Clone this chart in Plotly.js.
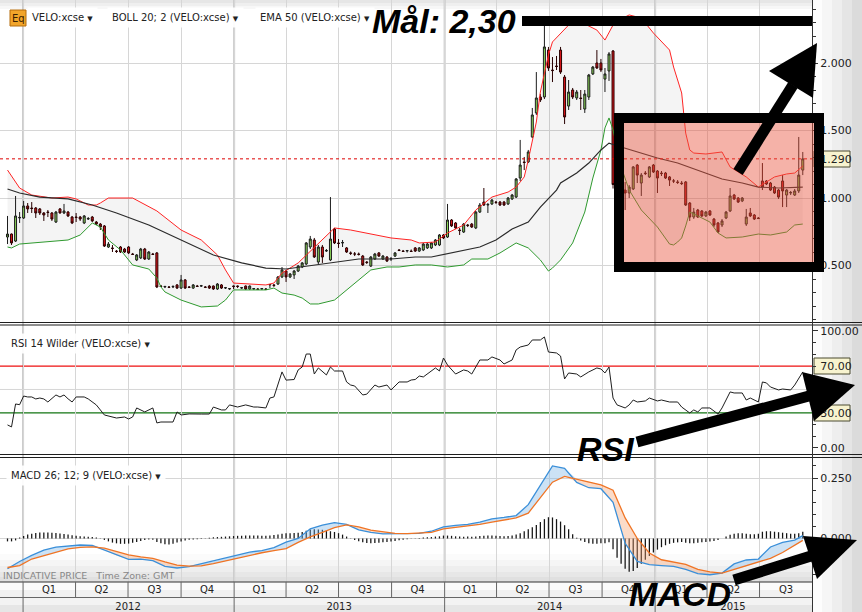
<!DOCTYPE html>
<html>
<head>
<meta charset="utf-8">
<script src="https://cdn.plot.ly/plotly-3.0.1.min.js"></script>
<style>
html,body{margin:0;padding:0;background:#fff;overflow:hidden;}
#chart{width:862px;height:612px;}
</style>
</head>
<body>
<div id="chart"></div>
<script>
// ---------------- data (weekly bars, VELO:xcse) ----------------
const startDate = '2011-12-05';

const open = [
0.711,0.733,0.681,0.852,0.852,0.941,0.926,0.926,0.919,0.889,
0.896,0.889,0.822,0.919,0.889,0.896,0.859,0.859,0.859,0.815,
0.844,0.859,0.822,0.807,0.793,0.637,0.630,0.607,0.637,0.622,
0.637,0.585,0.541,0.556,0.622,0.548,0.585,0.593,0.348,0.341,
0.341,0.341,0.356,0.333,0.393,0.341,0.333,0.348,0.348,0.341,
0.348,0.348,0.326,0.356,0.333,0.326,0.348,0.348,0.333,0.348,
0.326,0.326,0.326,0.326,0.326,0.356,0.356,0.363,0.415,0.459,
0.415,0.430,0.459,0.489,0.511,0.637,0.689,0.526,0.637,0.607,
0.541,0.770,0.667,0.667,0.630,0.593,0.585,0.585,0.570,0.526,
0.496,0.548,0.593,0.548,0.563,0.548,0.570,0.615,0.607,0.607,
0.607,0.630,0.607,0.615,0.630,0.630,0.652,0.652,0.726,0.711,
0.837,0.815,0.763,0.748,0.800,0.807,0.778,0.896,0.970,0.948,
0.956,0.970,0.970,0.970,0.956,0.993,1.007,1.148,1.267,1.267,
1.452,1.630,1.748,1.748,2.096,1.948,1.978,2.096,1.896,1.681,
1.800,1.741,1.741,1.659,1.748,1.919,2.000,2.000,1.881,1.941,
2.089,1.100,1.000,1.059,1.037,1.067,1.244,1.111,1.185,1.156,
1.244,1.200,1.185,1.185,1.156,1.126,1.119,1.111,1.119,0.963,
0.859,0.911,0.904,0.867,0.904,0.844,0.815,0.800,0.852,0.904,
1.022,1.000,0.978,0.807,0.889,0.874,0.852,1.126,1.126,1.111,
1.081,1.059,1.126,1.022,1.037,1.022,1.052,1.207];

const high = [
0.867,0.737,1.015,0.896,0.978,0.963,0.970,0.933,0.926,0.896,
0.911,0.896,0.904,0.926,0.956,0.904,0.867,0.889,0.867,0.874,
0.859,0.867,0.830,0.815,0.800,0.674,0.652,0.615,0.644,0.630,
0.644,0.593,0.585,0.630,0.630,0.607,0.593,0.600,0.356,0.348,
0.348,0.352,0.363,0.430,0.400,0.348,0.363,0.356,0.356,0.348,
0.356,0.352,0.370,0.363,0.341,0.333,0.352,0.352,0.341,0.352,
0.352,0.333,0.333,0.333,0.333,0.363,0.363,0.422,0.489,0.467,
0.444,0.467,0.504,0.526,0.674,0.719,0.704,0.652,0.652,0.622,
1.007,0.778,0.696,0.689,0.637,0.604,0.600,0.596,0.578,0.533,
0.570,0.593,0.600,0.578,0.570,0.563,0.600,0.622,0.615,0.615,
0.619,0.637,0.637,0.667,0.667,0.674,0.696,0.733,0.733,0.956,
0.844,0.822,0.778,0.815,0.807,0.815,0.904,0.963,1.074,0.963,
0.993,0.978,0.978,0.978,1.007,1.030,1.148,1.430,1.304,1.356,
1.667,1.933,1.770,2.281,2.119,2.044,2.052,2.119,1.911,1.874,
1.815,1.800,1.800,1.800,1.919,1.978,2.096,2.030,1.963,2.081,
2.096,1.120,1.080,1.119,1.096,1.237,1.252,1.185,1.200,1.237,
1.252,1.207,1.200,1.193,1.163,1.141,1.133,1.126,1.126,0.970,
0.926,0.919,0.911,0.904,0.911,0.852,0.822,0.844,0.904,1.074,
1.030,1.007,1.007,0.919,0.926,0.881,0.859,1.259,1.133,1.119,
1.089,1.067,1.170,1.067,1.052,1.067,1.452,1.341];

const low = [
0.659,0.652,0.674,0.815,0.845,0.889,0.889,0.852,0.874,0.830,
0.859,0.830,0.815,0.885,0.881,0.859,0.807,0.822,0.830,0.807,
0.837,0.822,0.800,0.763,0.637,0.630,0.600,0.593,0.593,0.593,
0.585,0.578,0.533,0.548,0.541,0.541,0.578,0.333,0.341,0.333,
0.333,0.333,0.326,0.326,0.326,0.333,0.326,0.341,0.341,0.333,
0.326,0.319,0.319,0.326,0.326,0.319,0.326,0.333,0.326,0.319,
0.319,0.319,0.319,0.319,0.319,0.333,0.341,0.356,0.407,0.378,
0.407,0.400,0.452,0.481,0.504,0.622,0.556,0.511,0.519,0.600,
0.533,0.659,0.630,0.637,0.593,0.578,0.570,0.574,0.496,0.511,
0.489,0.541,0.563,0.541,0.526,0.533,0.563,0.607,0.600,0.596,
0.600,0.600,0.600,0.607,0.622,0.622,0.644,0.644,0.696,0.704,
0.785,0.770,0.726,0.741,0.785,0.778,0.770,0.889,0.941,0.889,
0.948,0.956,0.941,0.941,0.948,0.985,1.000,1.126,1.207,1.259,
1.444,1.615,1.711,1.733,1.941,1.859,1.948,1.919,1.548,1.652,
1.733,1.726,1.652,1.630,1.726,1.911,1.956,1.933,1.785,1.867,
1.070,0.970,0.960,0.911,1.000,1.059,1.111,1.015,1.170,1.148,
1.185,1.037,1.163,1.141,1.089,1.111,1.104,1.096,0.941,0.830,
0.845,0.852,0.859,0.859,0.867,0.785,0.741,0.785,0.844,0.896,
0.985,0.963,0.970,0.793,0.859,0.837,0.844,1.059,1.096,1.052,
1.030,0.993,0.933,0.933,1.022,1.015,1.037,1.170];

const close = [
0.733,0.667,0.867,0.856,0.941,0.919,0.922,0.889,0.889,0.874,
0.893,0.844,0.896,0.889,0.904,0.867,0.815,0.856,0.844,0.867,
0.848,0.830,0.807,0.785,0.644,0.659,0.626,0.604,0.600,0.600,
0.593,0.582,0.578,0.622,0.548,0.600,0.582,0.341,0.345,0.345,
0.338,0.345,0.333,0.393,0.333,0.338,0.356,0.345,0.350,0.338,
0.333,0.326,0.363,0.333,0.336,0.329,0.345,0.345,0.336,0.326,
0.348,0.329,0.323,0.329,0.323,0.359,0.352,0.415,0.467,0.415,
0.437,0.459,0.496,0.519,0.667,0.696,0.563,0.637,0.563,0.611,
0.696,0.667,0.663,0.670,0.600,0.590,0.585,0.582,0.504,0.522,
0.563,0.585,0.570,0.570,0.533,0.552,0.593,0.611,0.604,0.611,
0.604,0.607,0.630,0.659,0.659,0.667,0.689,0.726,0.704,0.837,
0.793,0.778,0.759,0.807,0.796,0.785,0.896,0.948,0.948,0.952,
0.985,0.967,0.948,0.948,1.000,1.022,1.141,1.244,1.263,1.341,
1.615,1.741,1.726,2.119,1.963,1.944,1.974,1.933,1.600,1.785,
1.748,1.785,1.737,1.770,1.911,1.970,1.963,1.948,1.919,2.067,
1.100,1.000,1.030,1.037,1.081,1.230,1.170,1.170,1.181,1.230,
1.193,1.148,1.181,1.148,1.133,1.126,1.115,1.107,0.948,0.859,
0.896,0.859,0.867,0.896,0.874,0.800,0.748,0.830,0.896,1.015,
0.993,0.970,1.000,0.859,0.867,0.844,0.848,1.081,1.104,1.059,
1.037,1.007,1.052,1.059,1.041,1.052,1.170,1.290];

// Bollinger 20;2 (bar index -> value)
const bbUpperIdx = [0,3,6,11,15,17,20,22,23,25,31,35,37,43,48,52,54,56,64,66,68,72,76,78,81,85,90,95,100,102,106,109,113,116,120,124,126,128,129,131,132,134,135,137,139,143,146,148,150,153,154,157,160,164,165,167,168,169,170,173,177,179,183,186,188,190,193,195,197];
const bbUpper = [1.207,1.074,1.022,1.000,1.007,0.993,0.948,0.948,0.963,1.000,1.000,0.933,0.904,0.763,0.689,0.578,0.467,0.370,0.356,0.370,0.444,0.519,0.637,0.689,0.778,0.763,0.733,0.704,0.689,0.667,0.674,0.741,0.800,0.911,1.007,1.044,1.081,1.156,1.281,1.563,1.785,2.059,2.156,2.222,2.281,2.289,2.244,2.170,2.281,2.341,2.356,2.333,2.222,2.096,1.970,1.778,1.481,1.356,1.333,1.326,1.341,1.230,1.156,1.081,1.119,1.156,1.178,1.185,1.237];
const bbLowerIdx = [0,1,3,6,11,15,18,20,21,23,25,28,31,35,37,38,39,43,48,52,54,56,64,66,68,71,73,75,77,81,85,88,90,94,97,101,105,109,113,115,119,122,126,129,132,134,135,137,140,143,145,147,148,149,150,152,154,157,161,164,165,166,167,168,169,171,174,176,178,182,186,189,193,195,197];
const bbLower = [0.637,0.630,0.659,0.667,0.681,0.689,0.726,0.785,0.815,0.785,0.689,0.615,0.504,0.474,0.407,0.341,0.304,0.244,0.193,0.200,0.244,0.319,0.319,0.333,0.296,0.281,0.259,0.215,0.215,0.244,0.341,0.415,0.467,0.489,0.489,0.504,0.504,0.489,0.504,0.548,0.548,0.593,0.667,0.630,0.541,0.459,0.481,0.541,0.667,0.896,1.148,1.356,1.519,1.593,1.504,1.230,1.059,0.911,0.785,0.659,0.652,0.674,0.704,0.793,0.896,0.867,0.822,0.741,0.704,0.711,0.733,0.726,0.748,0.800,0.807];

// EMA 50
const emaIdx = [0,3,8,15,21,27,35,43,51,58,64,69,74,81,87,95,101,105,113,117,121,125,129,132,136,137,141,144,147,149,152,157,161,166,171,174,177,182,186,191,197];
const ema50 = [1.067,1.037,1.007,0.993,0.948,0.889,0.800,0.689,0.578,0.519,0.481,0.474,0.496,0.526,0.548,0.548,0.563,0.563,0.615,0.637,0.689,0.770,0.822,0.933,1.059,1.111,1.185,1.259,1.356,1.407,1.378,1.333,1.296,1.259,1.207,1.178,1.141,1.111,1.081,1.074,1.081];

// RSI 14 Wilder
const rsiIdx = [0,1,2,3,4,5,6,7,8,9,10,12,13,14,15,16,17,19,20,22,24,25,27,29,30,31,32,34,36,37,38,41,42,43,45,48,50,51,53,54,55,57,59,61,62,64,65,66,68,69,71,72,73,74,75,76,77,79,80,81,83,84,85,86,88,89,91,92,94,95,97,99,100,101,102,103,104,106,107,108,109,111,113,114,115,117,119,120,122,123,125,126,127,129,130,132,133,134,136,137,138,139,141,142,144,146,147,148,149,150,151,153,154,155,156,158,159,161,162,164,166,167,169,170,171,172,174,176,177,179,180,182,183,184,186,187,188,189,191,192,194,195,197];
const rsi = [19.7,18,37.6,37,44.4,43.6,43.6,41.9,42.7,41.9,39.3,45.3,43.6,45.3,42,39.3,43.6,43.6,41.9,36.8,28.2,27.4,25.6,26.5,24.8,26.5,34.2,30.8,34.2,21.4,22.2,22.2,30.8,28.2,29.1,29,29,35,32.5,32.5,36.8,35,36.8,35,35,34.2,42.7,43.6,65,58,58.5,66.7,69.2,80.3,80.3,63.2,68.4,62.4,69.2,65.8,65.8,56.4,53.8,53,45.3,46,53.8,52.1,53.8,49.6,56.4,56.4,58.1,58.5,61.5,60.7,63.2,68.4,65.8,76.9,70.9,63.2,66.7,65.8,63.2,75.2,75.2,77.8,75.2,71.8,75.2,83.8,86.3,88,92.3,92.3,94.9,82,81.2,78.6,59,64.1,63.2,60.7,65,68.4,67.5,64.1,69.2,42.7,36.8,34.2,36.8,41,39.3,40.2,42.7,40.2,41,39.3,39.3,35,29.9,32.5,30.8,34.2,34.2,29,34.2,47.9,47,47,41,42.7,39.3,56.4,55.6,52.1,49.6,50.4,49.6,53.8,65];
const rsiUpper = 70, rsiLower = 30, rsiMid = 50;

// MACD 26;12;9
const macdIdx = [0,3,6,9,12,15,18,21,24,27,30,33,36,39,42,45,48,51,54,57,60,63,66,69,72,75,78,81,84,87,90,93,96,99,102,105,108,111,114,117,120,123,126,129,132,135,138,141,144,147,150,153,156,159,162,165,168,171,174,177,180,183,186,189,192,195,197];
const macd = [-0.125,-0.095,-0.070,-0.048,-0.036,-0.030,-0.027,-0.029,-0.048,-0.070,-0.086,-0.085,-0.092,-0.115,-0.122,-0.116,-0.104,-0.095,-0.081,-0.068,-0.056,-0.050,-0.038,-0.015,0.000,0.040,0.055,0.066,0.058,0.036,0.025,0.019,0.019,0.019,0.021,0.030,0.048,0.054,0.058,0.068,0.081,0.087,0.095,0.140,0.222,0.300,0.290,0.232,0.210,0.206,0.150,-0.020,-0.095,-0.108,-0.112,-0.115,-0.128,-0.145,-0.150,-0.143,-0.105,-0.089,-0.085,-0.035,-0.016,-0.007,0.012];
const signal = [-0.120,-0.112,-0.085,-0.070,-0.055,-0.043,-0.037,-0.035,-0.040,-0.055,-0.068,-0.076,-0.082,-0.097,-0.110,-0.114,-0.113,-0.104,-0.092,-0.080,-0.068,-0.059,-0.050,-0.042,-0.016,0.007,0.025,0.045,0.056,0.048,0.035,0.027,0.021,0.020,0.021,0.025,0.040,0.046,0.052,0.058,0.068,0.078,0.085,0.105,0.170,0.233,0.257,0.246,0.232,0.222,0.200,0.085,0.000,-0.060,-0.088,-0.096,-0.107,-0.128,-0.138,-0.143,-0.128,-0.115,-0.097,-0.082,-0.058,-0.030,-0.008];
const hist = [
-0.012,-0.012,-0.008,0.004,0.010,0.016,0.020,0.023,0.025,0.025,
0.025,0.024,0.023,0.021,0.019,0.016,0.013,0.011,0.009,0.008,
0.007,0.006,0.004,0.001,-0.006,-0.012,-0.017,-0.020,-0.022,-0.022,
-0.021,-0.018,-0.014,-0.010,-0.006,-0.004,-0.005,-0.014,-0.020,-0.024,
-0.025,-0.022,-0.017,-0.012,-0.008,-0.005,-0.004,-0.003,-0.002,0.001,
0.003,0.005,0.006,0.007,0.008,0.009,0.010,0.011,0.011,0.012,
0.012,0.012,0.012,0.011,0.011,0.012,0.014,0.016,0.020,0.022,
0.022,0.023,0.024,0.027,0.032,0.037,0.038,0.037,0.036,0.033,
0.030,0.027,0.022,0.016,0.008,0.001,-0.006,-0.011,-0.016,-0.019,
-0.020,-0.019,-0.018,-0.016,-0.014,-0.012,-0.010,-0.007,-0.005,-0.003,
-0.001,0.001,0.002,0.004,0.005,0.006,0.008,0.009,0.012,0.012,
0.011,0.009,0.008,0.007,0.008,0.007,0.008,0.010,0.011,0.012,
0.012,0.011,0.010,0.009,0.010,0.012,0.016,0.022,0.030,0.038,
0.046,0.056,0.068,0.080,0.088,0.087,0.080,0.070,0.055,0.038,
0.018,0.003,-0.008,-0.015,-0.020,-0.022,-0.022,-0.020,-0.020,-0.016,
-0.045,-0.080,-0.105,-0.125,-0.138,-0.135,-0.122,-0.105,-0.088,-0.072,
-0.058,-0.046,-0.036,-0.028,-0.022,-0.018,-0.016,-0.015,-0.018,-0.020,
-0.020,-0.018,-0.016,-0.014,-0.012,-0.010,-0.006,0.000,0.008,0.015,
0.020,0.022,0.022,0.020,0.018,0.018,0.020,0.028,0.030,0.030,
0.028,0.026,0.024,0.022,0.020,0.020,0.022,0.028];

// time axis labels
const quarterStarts = ['2012-01-01','2012-04-01','2012-07-01','2012-10-01','2013-01-01','2013-04-01','2013-07-01','2013-10-01','2014-01-01','2014-04-01','2014-07-01','2014-10-01','2015-01-01','2015-04-01','2015-07-01'];
const quarterMids = ['2012-02-15','2012-05-16','2012-08-16','2012-11-15','2013-02-14','2013-05-16','2013-08-16','2013-11-15','2014-02-14','2014-05-16','2014-08-16','2014-11-15','2015-02-14','2015-05-16','2015-08-16'];
const quarterLabels = ['Q1','Q2','Q3','Q4','Q1','Q2','Q3','Q4','Q1','Q2','Q3','Q4','Q1','Q2','Q3'];
const yearStarts = ['2012-01-01','2013-01-01','2014-01-01','2015-01-01'];
const yearMids = ['2012-07-01','2013-07-02','2014-07-02','2015-05-16'];
const yearLabels = ['2012','2013','2014','2015'];
const xRange = ['2011-11-22','2015-09-30'];

// ---------------- build ----------------
const dates = [];
(function(){ const t0 = Date.parse(startDate + 'T00:00:00Z');
  for (let i = 0; i < open.length; i++) dates.push(new Date(t0 + i*7*864e5).toISOString().slice(0,10)); })();
const at = idx => idx.map(i => dates[i]);
const lastClose = close[close.length-1];

const W = 862, H = 612;
const PX = x => x / W;
const PY = y => 1 - y / H;
const FONT = 'DejaVu Sans, Verdana, sans-serif';
const BIG = 'Liberation Sans, Arial, sans-serif';

const traces = [];
traces.push({type:'scatter', mode:'lines', x:at(bbLowerIdx), y:bbLower, xaxis:'x', yaxis:'y',
  line:{color:'#2f9a2f', width:1}, hoverinfo:'skip'});
traces.push({type:'scatter', mode:'lines', x:at(bbUpperIdx), y:bbUpper, xaxis:'x', yaxis:'y',
  fill:'tonexty', fillcolor:'rgba(0,0,0,0.045)', line:{color:'#ff2424', width:1}, hoverinfo:'skip'});
traces.push({type:'scatter', mode:'lines', x:at(emaIdx), y:ema50, xaxis:'x', yaxis:'y',
  line:{color:'#2a2a2a', width:1.2}, hoverinfo:'skip'});
traces.push({type:'candlestick', x:dates, open:open, high:high, low:low, close:close, xaxis:'x', yaxis:'y',
  whiskerwidth:0,
  increasing:{line:{color:'#1c1c1c', width:1}, fillcolor:'#8fdc5c'},
  decreasing:{line:{color:'#2a0000', width:1}, fillcolor:'#e8161b'},
  hoverinfo:'skip'});

traces.push({type:'scatter', mode:'lines', x:at(rsiIdx), y:rsi, xaxis:'x2', yaxis:'y2',
  line:{color:'#1e1e1e', width:1}, hoverinfo:'skip'});

const mX = at(macdIdx);
const mHi = macd.map((v,i)=>Math.max(v, signal[i]));
const mLo = macd.map((v,i)=>Math.min(v, signal[i]));
traces.push({type:'bar', x:dates, y:hist, xaxis:'x3', yaxis:'y3', marker:{color:'#151515', line:{width:0}}, width:1.9e8, hoverinfo:'skip'});
traces.push({type:'scatter', mode:'lines', x:mX, y:signal, xaxis:'x3', yaxis:'y3', line:{width:0, color:'rgba(0,0,0,0)'}, hoverinfo:'skip'});
traces.push({type:'scatter', mode:'lines', x:mX, y:mHi, xaxis:'x3', yaxis:'y3', fill:'tonexty', fillcolor:'rgba(120,180,230,0.38)', line:{width:0, color:'rgba(0,0,0,0)'}, hoverinfo:'skip'});
traces.push({type:'scatter', mode:'lines', x:mX, y:signal, xaxis:'x3', yaxis:'y3', line:{width:0, color:'rgba(0,0,0,0)'}, hoverinfo:'skip'});
traces.push({type:'scatter', mode:'lines', x:mX, y:mLo, xaxis:'x3', yaxis:'y3', fill:'tonexty', fillcolor:'rgba(245,160,110,0.38)', line:{width:0, color:'rgba(0,0,0,0)'}, hoverinfo:'skip'});
traces.push({type:'scatter', mode:'lines', x:mX, y:macd, xaxis:'x3', yaxis:'y3', line:{color:'#3a8fd9', width:1.3}, hoverinfo:'skip'});
traces.push({type:'scatter', mode:'lines', x:mX, y:signal, xaxis:'x3', yaxis:'y3', line:{color:'#f07424', width:1.3}, hoverinfo:'skip'});

// invisible anchors so the overlay label axes are drawn
const ghost = (xa, ya, xv, yv) => ({type:'scatter', mode:'markers', x:[xv], y:[yv], xaxis:xa, yaxis:ya,
  marker:{opacity:0, size:1}, hoverinfo:'skip', showlegend:false});
traces.push(ghost('x','y4', dates[dates.length-1], lastClose));
traces.push(ghost('x2','y5', dates[dates.length-1], rsiUpper));
traces.push(ghost('x4','y3', dates[0], 0));
traces.push(ghost('x5','y3', dates[0], 0));

// ---------------- axes ----------------
const xDomain = [0, 812/W];
function xBase(anchor){ return {domain:xDomain, anchor:anchor, type:'date', range:xRange,
  showticklabels:false, ticks:'', tick0:'2012-01-01', dtick:'M3', showgrid:true, gridcolor:'#d6d6d6', gridwidth:1,
  zeroline:false, showline:false, automargin:false, fixedrange:true, rangeslider:{visible:false}}; }
const tickFont = {family:FONT, size:11, color:'#222'};
function yBase(domain, anchor, range){ return {domain:domain, anchor:anchor, side:'right', range:range,
  ticks:'outside', ticklen:5, tickcolor:'#333', showline:true, linecolor:'#333', linewidth:1,
  zeroline:false, automargin:false, fixedrange:true, tickfont:tickFont}; }
function yTag(over, anchor, range, vals, texts){ return {overlaying:over, anchor:anchor, side:'right', range:range,
  tickmode:'array', tickvals:vals, ticktext:texts, ticks:'outside', ticklen:5, tickcolor:'rgba(0,0,0,0)',
  showgrid:false, showline:false, zeroline:false, automargin:false, fixedrange:true, tickfont:tickFont}; }

const priceRange = [0.0815, 2.4667], rsiRange = [-6.0, 105.1], macdRange = [-0.180, 0.333];

const yPrice = yBase([1-322/H, 1], 'x', priceRange);
Object.assign(yPrice, {tick0:0, dtick:0.5, tickformat:'.3f', showgrid:true, gridcolor:'#d6d6d6',
  minor:{tick0:0, dtick:0.1, ticks:'outside', ticklen:3, tickcolor:'#333', showgrid:false}});
const yRsi = yBase([1-455/H, 1-325/H], 'x2', rsiRange);
Object.assign(yRsi, {tickmode:'array', tickvals:[0,100], ticktext:['0.00','100.00'], showgrid:false,
  minor:{tick0:0, dtick:10, ticks:'outside', ticklen:3, tickcolor:'#333', showgrid:false}});
const yMacd = yBase([1-582/H, 1-458/H], 'x3', macdRange);
Object.assign(yMacd, {tickmode:'array', tickvals:[0,0.25], ticktext:['0.000','0.250'], showgrid:true, gridcolor:'#d6d6d6',
  minor:{tick0:0, dtick:0.05, ticks:'outside', ticklen:3, tickcolor:'#333', showgrid:false}});

const xQuarter = {overlaying:'x3', anchor:'y3', side:'bottom', type:'date', range:xRange, tickmode:'array',
  tickvals:quarterMids, ticktext:quarterLabels, ticks:'', showgrid:false, zeroline:false, showline:false,
  automargin:false, fixedrange:true, tickfont:{family:FONT, size:10, color:'#222'}};
const xYear = {overlaying:'x3', anchor:'free', position:0, side:'top', type:'date', range:xRange, tickmode:'array',
  tickvals:yearMids, ticktext:yearLabels, ticks:'', showgrid:false, zeroline:false, showline:false,
  automargin:false, fixedrange:true, tickfont:{family:FONT, size:10, color:'#222'}};

// ---------------- shapes ----------------
const shapes = [];
function rect(x0,y0,x1,y1,fill,layer,line){ return {type:'rect', xref:'paper', yref:'paper',
  x0:PX(x0), x1:PX(x1), y0:PY(y1), y1:PY(y0), fillcolor:fill, line:line||{width:0}, layer:layer||'below'}; }
function seg(x0,y0,x1,y1,color,width,layer){ return {type:'line', xref:'paper', yref:'paper',
  x0:PX(x0), y0:PY(y0), x1:PX(x1), y1:PY(y1), line:{color:color, width:width}, layer:layer||'above'}; }

// background shading
[[0,3,'#e6e6e6'],[3,6,'#efefef'],[6,9,'#f7f7f7']].forEach(s=>shapes.push(rect(0,s[0],812,s[1],s[2])));
[[554,560,'#fbfbfb'],[560,566,'#f5f5f5'],[566,572,'#eeeeee'],[572,577,'#e7e7e7'],[577,582,'#e0e0e0']].forEach(s=>shapes.push(rect(0,s[0],812,s[1],s[2])));
[[582,590,'#fbfbfb'],[590,597.5,'#f1f1f1'],[597.5,605,'#f3f3f3'],[605,612,'#e6e6e6']].forEach(s=>shapes.push(rect(0,s[0],812,s[1],s[2])));
[[812,822,'#fdfdfd'],[822,832,'#f6f6f6'],[832,842,'#eeeeee'],[842,852,'#e5e5e5'],[852,862,'#dbdbdb']].forEach(s=>shapes.push(rect(s[0],0,s[1],612,s[2])));

// year grid lines (thicker)
yearStarts.forEach(d=>shapes.push({type:'line', xref:'x', yref:'paper', x0:d, x1:d, y0:PY(582), y1:1,
  line:{color:'#c9c9c9', width:2}, layer:'below'}));
// RSI levels
shapes.push({type:'line', xref:'paper', yref:'y2', x0:0, x1:PX(812), y0:rsiMid, y1:rsiMid, line:{color:'#d6d6d6', width:1}, layer:'below'});
shapes.push({type:'line', xref:'paper', yref:'y2', x0:0, x1:PX(812), y0:rsiUpper, y1:rsiUpper, line:{color:'#ee1111', width:1.2}, layer:'below'});
shapes.push({type:'line', xref:'paper', yref:'y2', x0:0, x1:PX(812), y0:rsiLower, y1:rsiLower, line:{color:'#127512', width:1.2}, layer:'below'});
// value tags
const tagLine = {color:'#4a4a30', width:1};
shapes.push(rect(814,151,850,167,'#f7f3cf','below',tagLine));
shapes.push(rect(814,358,850,374,'#f7f3cf','below',tagLine));
shapes.push(rect(814,405,850,421,'#f7f3cf','below',tagLine));

// last price dotted line
shapes.push({type:'line', xref:'paper', yref:'y', x0:0, x1:PX(812), y0:lastClose, y1:lastClose,
  line:{color:'#dd0000', width:1, dash:'dot'}, layer:'above'});

// panel separators and frame
shapes.push(seg(0,322.5,862,322.5,'#1e1e1e',1));
shapes.push(seg(0,325,862,325,'#1e1e1e',1));
shapes.push(seg(0,454.5,862,454.5,'#1e1e1e',1));
shapes.push(seg(0,457.5,862,457.5,'#1e1e1e',1));
shapes.push(seg(0,582,812,582,'#333',1));
shapes.push(seg(0,597.5,812,597.5,'#666',1));
shapes.push(seg(812.5,0,812.5,612,'#333',1));
quarterStarts.forEach(d=>shapes.push({type:'line', xref:'x3', yref:'paper', x0:d, x1:d, y0:PY(597.5), y1:PY(582),
  line:{color:'#666', width:1}, layer:'above'}));
yearStarts.forEach(d=>shapes.push({type:'line', xref:'x3', yref:'paper', x0:d, x1:d, y0:PY(612), y1:PY(597.5),
  line:{color:'#666', width:1}, layer:'above'}));

// Eq icon
shapes.push(rect(10,10,26,26,'#f2a52a','above',{color:'#b56d0c', width:1}));

// drawn-on markup: box, target bar, arrows
shapes.push(rect(619,118,819,267,'rgba(232,84,62,0.45)','above',{color:'#000', width:10}));
shapes.push(rect(522,16,812,26,'#000','above'));
function arrow(sx,sy,ex,ey,tip,b1,b2){
  shapes.push(seg(sx,sy,ex,ey,'#000',11,'above'));
  shapes.push({type:'path', xref:'paper', yref:'paper', layer:'above', fillcolor:'#000', line:{width:0},
    path:'M '+PX(tip[0])+' '+PY(tip[1])+' L '+PX(b1[0])+' '+PY(b1[1])+' L '+PX(b2[0])+' '+PY(b2[1])+' Z'});
}
arrow(738,172,793,85,[817,43],[769,71],[813,98]);
arrow(637,442,809,396,[855,385],[802,372],[814,421]);
arrow(734,580,811,556,[857,540],[803,536],[817,579]);

// ---------------- annotations ----------------
const ann = [];
function label(x,y,text,size,color,bg){ ann.push({xref:'paper', yref:'paper', x:PX(x), y:PY(y), xanchor:'left', yanchor:'middle',
  text:text, showarrow:false, font:{family:FONT, size:size||10, color:color||'#222'},
  bgcolor:bg||'rgba(0,0,0,0)', borderpad:bg?4:0}); }
const tri = ' <span style="font-size:7px">▼</span>';
label(27,17,'VELO:xcse'+tri,10,'#222','rgba(255,255,255,0.92)');
label(107,17,'BOLL 20; 2 (VELO:xcse)'+tri,10,'#222','rgba(255,255,255,0.92)');
label(255,17,'EMA 50 (VELO:xcse)'+tri,10,'#222','rgba(255,255,255,0.92)');
label(6,343,'RSI 14 Wilder (VELO:xcse)'+tri,10,'#222','rgba(255,255,255,0.92)');
label(6,475,'MACD 26; 12; 9 (VELO:xcse)'+tri,10,'#222','rgba(255,255,255,0.92)');
label(2,575,'INDICATIVE PRICE&nbsp;&nbsp;&nbsp;Time Zone: GMT',9.5,'#888');
ann.push({xref:'paper', yref:'paper', x:PX(18), y:PY(18), xanchor:'center', yanchor:'middle', text:'Eq',
  showarrow:false, font:{family:FONT, size:10, color:'#3a2000'}});
function big(x,y,text){ ann.push({xref:'paper', yref:'paper', x:PX(x), y:PY(y), xanchor:'left', yanchor:'middle',
  text:'<b><i>'+text+'</i></b>', showarrow:false, font:{family:BIG, size:34, color:'#000'}}); }
big(370,21,'Mål: 2,30');
big(575,449,'RSI');
big(627,594,'MACD');

const layout = {
  width:W, height:H, margin:{l:0, r:0, t:0, b:0, pad:0},
  paper_bgcolor:'#ffffff', plot_bgcolor:'rgba(0,0,0,0)', showlegend:false,
  font:{family:FONT, size:11, color:'#222'}, bargap:0.6, hovermode:false,
  xaxis:xBase('y'), xaxis2:xBase('y2'), xaxis3:xBase('y3'), xaxis4:xQuarter, xaxis5:xYear,
  yaxis:yPrice, yaxis2:yRsi, yaxis3:yMacd,
  yaxis4:yTag('y','x',priceRange,[lastClose],[lastClose.toFixed(3)]),
  yaxis5:yTag('y2','x2',rsiRange,[rsiUpper,rsiLower],[rsiUpper.toFixed(2),rsiLower.toFixed(2)]),
  shapes:shapes, annotations:ann
};
Plotly.newPlot('chart', traces, layout, {staticPlot:true, displayModeBar:false});
</script>
</body>
</html>
